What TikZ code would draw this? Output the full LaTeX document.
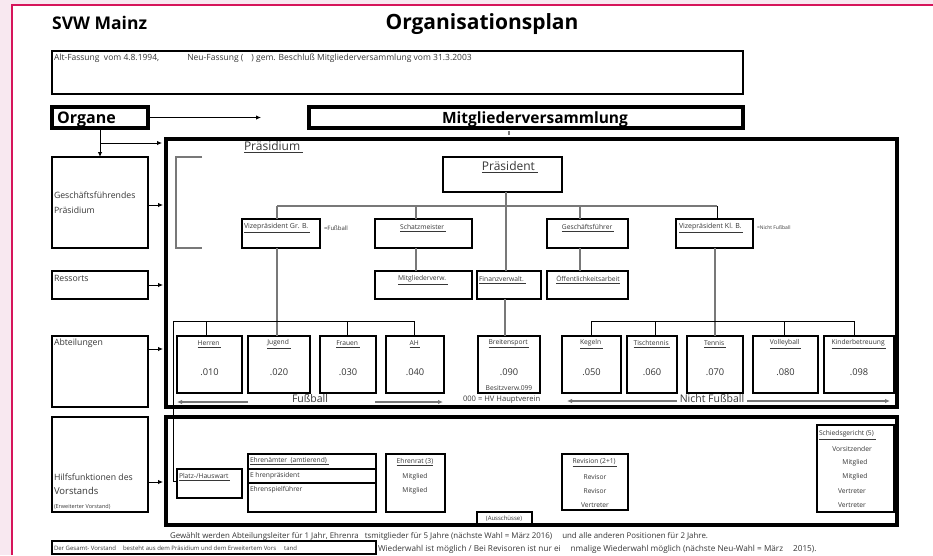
\documentclass[tikz,border=0pt]{standalone}
\usepackage{fontspec}
\setmainfont{Open Sans}
\usetikzlibrary{arrows.meta}
\definecolor{pinkbg}{RGB}{248,232,240}
\definecolor{crim}{RGB}{214,20,90}
\definecolor{txt}{RGB}{55,55,55}
\definecolor{connc}{RGB}{120,120,120}
\newcommand{\setfs}[1]{\fontsize{#1}{#1}\selectfont}
\newcommand{\bx}[6][box]{\node[#1, minimum width={(#5)-(#3)}, minimum height={(#6)-(#4)}] (#2) at (#3,#4) {};}
\tikzset{
  box/.style={draw=black, line width=2.3pt, inner sep=0pt, outer sep=0pt, anchor=north west},
  heavy/.style={box, line width=3.5pt},
  lbl/.style={inner sep=0pt, outer sep=0pt, text=txt},
  conn/.style={draw=connc, line width=1.2pt},
  blk/.style={draw=black, line width=0.9pt},
  arr/.style={-{Latex[length=5pt,width=4.5pt]}},
  tiny/.style={lbl, font=\setfs{6.7}},
  num/.style={lbl, font=\setfs{9.3}},
  side/.style={lbl, font=\setfs{8.7}, anchor=west},
  head/.style={inner sep=0pt, text=black, font=\bfseries\setfs{16}},
}
\begin{document}
\begin{tikzpicture}[x=1pt,y=-1pt]
\useasboundingbox (0,0) rectangle (933,555);
\fill[pinkbg] (0,0) rectangle (933,555);
\fill[white] (12,5) rectangle (933,555);
\draw[crim, line width=2pt] (12,555) -- (12,5) -- (933,5);

% header
\node[head, font=\bfseries\setfs{17.5}, anchor=base west] (svw) at (52,29) {SVW Mainz};
\node[head, font=\bfseries\setfs{21}, anchor=base] (title) at (482,29.5) {Organisationsplan};
\bx{info}{52}{51}{743}{94}
\node[lbl, font=\setfs{8.5}, anchor=west] (infoT) at (54,58) {Alt-Fassung\ \ vom 4.8.1994,\hspace{28pt}Neu-Fassung (\hspace{8pt}) gem. Beschluß Mitgliederversammlung vom 31.3.2003};

\bx[heavy]{organe}{52}{107}{148}{128}
\node[head, anchor=base west] (organeT) at (57,123) {Organe};
\bx[heavy]{mv}{309}{107}{743}{128}
\node[head, font=\bfseries\setfs{15.5}, anchor=base] (mvT) at (535,123) {Mitgliederversammlung};
\coordinate (mvEnd) at (261,117.5);
\draw[blk, arr] (organe.east) -- (mvEnd);
\coordinate (tickA) at (509,131);
\coordinate (tickB) at (509,135);
\draw[conn] (tickA) -- (tickB);

% left column
\bx{gesch}{52}{157}{148}{248}
\node[lbl, anchor=north west, align=left, font={\fontsize{8.7}{15}\selectfont}] (geschT) at (54,192) {Geschäftsführendes\\Präsidium};
\bx{ress}{52}{271}{148}{299}
\node[side] (ressT) at (54,278) {Ressorts};
\bx{abt}{52}{336}{148}{407}
\node[side] (abtT) at (54,343) {Abteilungen};
\bx{hilf}{52}{417}{148}{512}
\node[side] (hilfT1) at (54,477) {Hilfsfunktionen des};
\node[side, font=\setfs{9.5}] (hilfT2) at (54,491) {Vorstands};
\node[side, font=\setfs{5.5}] (hilfT3) at (54,507) {(Erweiterter Vorstand)};

\draw[blk, arr] (organe.south) -- (gesch.north);
\coordinate (br) at (100,143);
\coordinate (brE) at (162,143);
\draw[blk, arr] (br) -- (brE);
\coordinate (a1) at (163,205);  \draw[blk, arr] (gesch.east |- a1) -- (a1);
\coordinate (a2) at (163,285);  \draw[blk, arr] (ress.east |- a2) -- (a2);
\coordinate (a3) at (163,349);  \draw[blk, arr] (abt.east |- a3) -- (a3);
\coordinate (a4) at (163,482);  \draw[blk, arr] (hilf.east |- a4) -- (a4);

% big boxes
\bx[heavy]{praes}{166}{139}{897}{407}
\bx[heavy]{hf}{166}{417}{897}{525}
\node[lbl, font=\setfs{12}, anchor=west] (praesT) at (244,147) {\underline{Präsidium\ }};
\coordinate (bk1) at (202,157); \coordinate (bk2) at (176,157);
\coordinate (bk3) at (176,248); \coordinate (bk4) at (202,248);
\draw[conn] (bk1) -- (bk2) -- (bk3) -- (bk4);

% Praesidium level
\bx{pres}{443}{157}{562}{192}
\node[lbl, font=\setfs{12}] (presT) at (510,167) {\underline{Präsident\ }};
\bx{vgb}{242}{219}{320}{248}
\node[tiny, font=\setfs{7}, anchor=west] (vgbT) at (244,228) {\underline{Vizepräsident Gr. B.\ }};
\node[lbl, font=\setfs{6}, anchor=west] (vgbN) at (324,228) {=Fußball};
\bx{schatz}{375}{219}{472}{248}
\node[tiny] (schatzT) at (423,228) {\underline{Schatzmeister\ }};
\bx{gf}{547}{219}{628}{248}
\node[tiny] (gfT) at (588,228) {\underline{Geschäftsführer\ }};
\bx{vkb}{676}{219}{753}{248}
\node[tiny, font=\setfs{7}, anchor=west] (vkbT) at (679,228) {\underline{Vizepräsident Kl. B.\ }};
\node[lbl, font=\setfs{5}, anchor=west] (vkbN) at (757,228) {=Nicht Fußball};

\bx{mverw}{375}{271}{472}{299}
\node[tiny] (mverwT) at (423,280) {\underline{Mitgliederverw.\ }};
\bx{fin}{477}{271}{541}{299}
\node[tiny, anchor=west] (finT) at (479,280) {\underline{Finanzverwalt.\ }};
\bx{oeff}{547}{271}{628}{299}
\node[tiny] (oeffT) at (588,280) {\underline{Öffentlichkeitsarbeit}};

% connectors praesidium
\coordinate (hL) at (277,206); \coordinate (hR) at (717,206);
\draw[conn] (hL) -- (hR);
\draw[conn] (hL) -- (hL |- vgb.north);
\draw[conn] (416,206) coordinate (s1) -- (s1 |- schatz.north);
\draw[conn] (580,206) coordinate (s2) -- (s2 |- gf.north);
\draw[blk] (hR) -- (hR |- vkb.north);
\draw[conn] (pres.south -| 506,0) coordinate (s3) -- (s3 |- fin.north);
\draw[conn] (s1 |- schatz.south) -- (s1 |- mverw.north);
\draw[conn] (s2 |- gf.south) -- (s2 |- oeff.north);

% departments
\newcommand{\dept}[5]{\bx{#1}{#2}{336}{#3}{393}
  \node[tiny] (#1T) at ({(#2+#3)/2},344) {\underline{#4\ }};
  \node[num] (#1N) at ({(#2+#3)/2},372) {#5};}
\dept{herren}{177}{242}{Herren}{.010}
\dept{jugend}{248}{310}{Jugend}{.020}
\dept{frauen}{320}{376}{Frauen}{.030}
\dept{ah}{386}{444}{AH}{.040}
\dept{breit}{478}{540}{Breitensport}{.090}
\dept{kegeln}{562}{621}{Kegeln}{.050}
\dept{tt}{627}{677}{Tischtennis}{.060}
\dept{tennis}{687}{743}{Tennis}{.070}
\dept{volley}{753}{818}{Volleyball}{.080}
\dept{kinder}{824}{894}{Kinderbetreuung}{.098}
\node[tiny] (besitz) at (509,388) {Besitzverw.099};
\node[lbl, font=\setfs{7.6}, anchor=west] (hv) at (463,400) {000 = HV Hauptverein};

\draw[conn] (277,248) coordinate (v1) -- (v1 |- jugend.north);
\draw[conn] (505,299) coordinate (v2) -- (v2 |- breit.north);
\draw[conn] (715,248) coordinate (v3) -- (v3 |- tennis.north);
\coordinate (fL) at (173,321); \coordinate (fR) at (414,321);
\draw[blk] (fL) -- (fR);
\draw[blk] (206,321) coordinate (f1) -- (f1 |- herren.north);
\draw[blk] (347,321) coordinate (f2) -- (f2 |- frauen.north);
\draw[blk] (fR) -- (fR |- ah.north);
\coordinate (nL) at (591,321); \coordinate (nR) at (854,321);
\draw[blk] (nL) -- (nR);
\draw[blk] (nL) -- (nL |- kegeln.north);
\draw[blk] (655,321) coordinate (n1) -- (n1 |- tt.north);
\draw[blk] (784,321) coordinate (n2) -- (n2 |- volley.north);
\draw[blk] (nR) -- (nR |- kinder.north);

% Fussball arrows
\node[lbl, font=\setfs{10.5}] (fb) at (310,399) {Fußball};
\coordinate (fbL1) at (248,402); \coordinate (fbL2) at (177,402);
\coordinate (fbR1) at (375,402); \coordinate (fbR2) at (443,402);
\draw[conn, arr] (fbL1) -- (fbL2);
\draw[conn, arr] (fbR1) -- (fbR2);
\node[lbl, font=\setfs{10.5}] (nfb) at (712,399) {Nicht Fußball};
\coordinate (nfL1) at (677,401); \coordinate (nfL2) at (567,401);
\coordinate (nfR1) at (747,401); \coordinate (nfR2) at (890,401);
\draw[conn, arr] (nfL1) -- (nfL2);
\draw[conn, arr] (nfR1) -- (nfR2);

% Hilfsfunktionen
\bx{platz}{177}{469}{242}{498}
\node[tiny, anchor=west] (platzT) at (179,477) {\underline{Platz-/Hauswart\ }};
\draw[blk] (fL) |- (platz.west |- 0,481);
\bx{ehren}{248}{454}{376}{512}
\coordinate (d1) at (248,469); \coordinate (d2) at (248,483);
\draw[black, line width=2pt] (d1) -- (d1 -| ehren.east);
\draw[black, line width=2pt] (d2) -- (d2 -| ehren.east);
\node[tiny, anchor=west] (ehrenT1) at (250,461) {\underline{Ehrenämter\ \ (amtierend)\ }};
\node[tiny, anchor=west] (ehrenT2) at (250,476) {E hrenpräsident};
\node[tiny, anchor=west] (ehrenT3) at (250,490) {Ehrenspielführer};
\bx{erat}{386}{454}{445}{512}
\node[tiny] (eratT1) at (415,462) {\underline{Ehrenrat (3)}};
\node[tiny] (eratT2) at (415,477) {Mitglied};
\node[tiny] (eratT3) at (415,491) {Mitglied};
\bx{rev}{562}{454}{628}{510}
\node[tiny] (revT1) at (595,463) {\underline{Revision (2+1)\ }};
\node[tiny] (revT2) at (595,477) {Revisor};
\node[tiny] (revT3) at (595,491) {Revisor};
\node[tiny] (revT4) at (595,505) {Vertreter};
\bx{aus}{477}{512}{532}{525}
\node[lbl, font=\setfs{6}] (ausT) at (504,519) {(Ausschüsse)};
\bx{schied}{817}{425}{894}{512}
\node[tiny, anchor=west] (schT1) at (819,435) {\underline{Schiedsgericht (5)\ }};
\node[tiny] (schT2) at (852,449) {Vorsitzender};
\node[tiny] (schT3) at (855,463) {Mitglied};
\node[tiny] (schT4) at (855,477) {Mitglied};
\node[tiny] (schT5) at (852,491) {Vertreter};
\node[tiny] (schT6) at (852,505) {Vertreter};

% footer
\node[lbl, font=\setfs{7.9}, anchor=west] (gew) at (170,536) {Gewählt werden Abteilungsleiter für 1 Jahr, Ehrenra\hspace{6pt}tsmitglieder für 5 Jahre (nächste Wahl = März 2016)\hspace{10pt}und alle anderen Positionen für 2 Jahre.};
\bx{ges}{52}{541}{376}{554}
\node[lbl, font=\setfs{6}, anchor=west] (gesT) at (54,548) {Der Gesamt- Vorstand\hspace{7pt}besteht aus dem Präsidium und dem Erweitertem Vors\hspace{8pt}tand};
\node[lbl, font=\setfs{8.2}, anchor=west] (wied) at (378,549) {Wiederwahl ist möglich / Bei Revisoren ist nur ei\hspace{10pt}nmalige Wiederwahl möglich (nächste Neu-Wahl = März\hspace{10pt}2015).};
\end{tikzpicture}
\end{document}
